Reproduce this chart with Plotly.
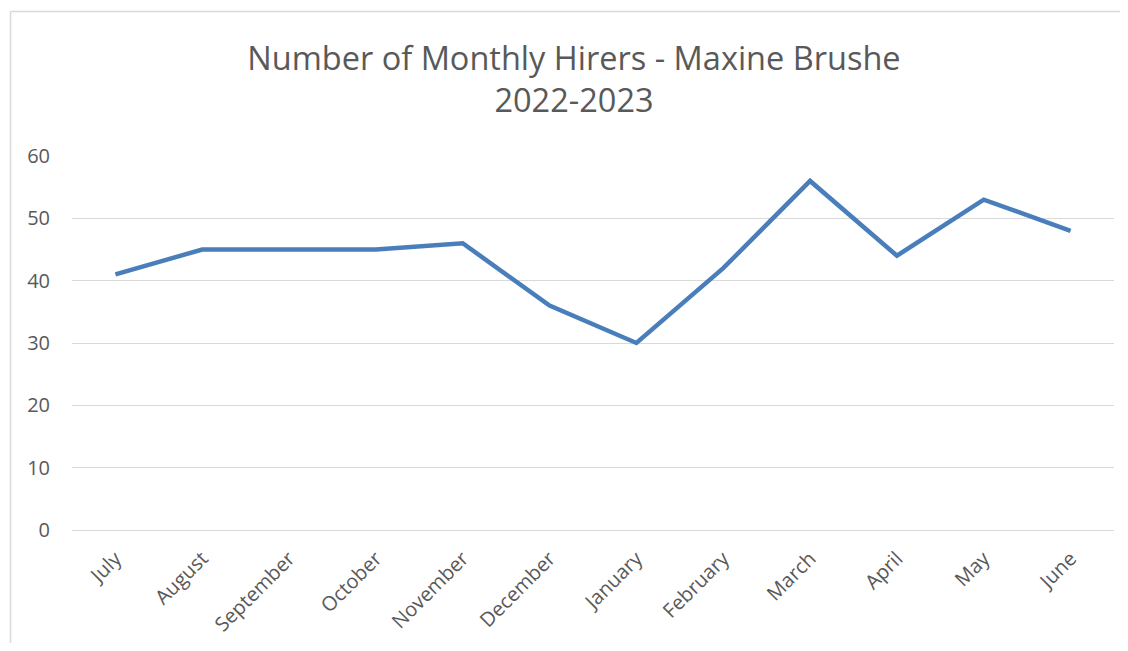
import plotly.graph_objects as go

months = ["July", "August", "September", "October", "November", "December",
          "January", "February", "March", "April", "May", "June"]
hirers = [41, 45, 45, 45, 46, 36, 30, 42, 56, 44, 53, 48]
title_text = "Number of Monthly Hirers - Maxine Brushe<br>2022-2023"
y_ticks = [0, 10, 20, 30, 40, 50, 60]

# the page body adds an 8px offset, so figure coordinates = viewport - 8
OFF = 8
W, H = 1128 - 2 * OFF, 651 - 2 * OFF
L, R, T, B = 72 - OFF, W - (1114 - OFF), 156 - OFF, H - (530 - OFF)
pw, ph = W - L - R, H - T - B

def px_to_paper_x(px):
    return (px - OFF - L) / pw

def px_to_paper_y(py):
    return (H - B - (py - OFF)) / ph

border = dict(color="#D9D9D9", width=1.5)

fig = go.Figure()
fig.add_trace(go.Scatter(
    x=months, y=hirers, mode="lines",
    line=dict(color="#4A7EBB", width=4.5),
    showlegend=False, hoverinfo="x+y",
))

fig.update_layout(
    width=W, height=H,
    margin=dict(l=L, r=R, t=T, b=B),
    paper_bgcolor="white", plot_bgcolor="white",
    font=dict(family="Open Sans, Segoe UI, sans-serif", color="#595959", size=20),
    title=dict(
        text=title_text,
        x=(574 - OFF) / W, xref="container", xanchor="center",
        y=1 - 62 / H, yref="container", yanchor="top",
        font=dict(size=32.5, color="#595959", family="Open Sans, sans-serif"),
    ),
    xaxis=dict(
        type="category", tickangle=-45, showgrid=False, showline=False,
        ticks="", range=[-0.5, 11.5], tickfont=dict(size=20, color="#595959"),
        ticklabelstandoff=12, fixedrange=True,
    ),
    yaxis=dict(
        range=[0, 60], tickvals=y_ticks, showgrid=True, gridcolor="#D9D9D9",
        gridwidth=1, zeroline=True, zerolinecolor="#D9D9D9", zerolinewidth=1,
        showline=False, ticks="", ticklabelstandoff=21,
        tickfont=dict(size=20, color="#595959"), fixedrange=True,
    ),
    shapes=[
        dict(type="line", xref="paper", yref="paper",
             x0=px_to_paper_x(10.5), x1=px_to_paper_x(1200),
             y0=px_to_paper_y(11.5), y1=px_to_paper_y(11.5),
             line=border, layer="below"),
        dict(type="line", xref="paper", yref="paper",
             x0=px_to_paper_x(10.5), x1=px_to_paper_x(10.5),
             y0=px_to_paper_y(11.5), y1=px_to_paper_y(700),
             line=border, layer="below"),
    ],
)

fig.write_html("out.html")
